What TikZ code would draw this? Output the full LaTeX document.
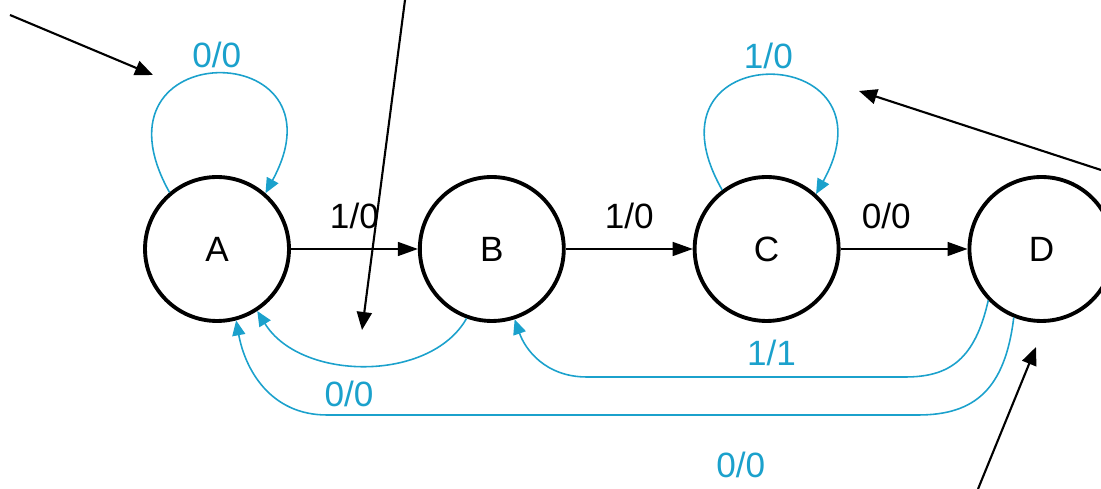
\documentclass[tikz,border=0pt]{standalone}
\usepackage{fontspec}
\setmainfont{Liberation Sans}
\usetikzlibrary{positioning,arrows.meta}
\definecolor{fsmblue}{RGB}{27,161,204}

\begin{document}
\begin{tikzpicture}[x=0.02cm,y=0.02cm,
		font=\fontsize{20}{24}\selectfont,
		state/.style={draw,circle,line width=2.2pt,minimum size=2.88cm,inner sep=0pt},
		trans/.style={-{Triangle[length=0.4cm,width=0.28cm]},line width=0.8pt},
		back/.style={fsmblue,line width=0.9pt,-{Triangle[length=0.3cm,width=0.26cm]}},
		lbl/.style={text=fsmblue},
		note/.style={-{Triangle[length=0.36cm,width=0.3cm]},line width=1.2pt},
		node distance=2.54cm]
	\useasboundingbox (0,0) rectangle (1101,489);
	% states
	\node[state] (A) at (217,240) {A};
	\node[state,right=of A] (B) {B};
	\node[state,right=of B] (C) {C};
	\node[state,right=of C] (D) {D};
	% forward transitions
	\draw[trans] (A) -- node[above=0.27cm] (l1) {1/0} (B);
	\draw[trans] (B) -- node[above=0.27cm] (l2) {1/0} (C);
	\draw[trans] (C) -- node[above=0.27cm,pos=0.36] (l3) {0/0} (D);
	% self loops
	\draw[back] (A.130) .. controls +(-88,158) and +(86,158) .. (A.49)
		node[above,lbl,pos=0.5] (la) {0/0};
	\draw[back] (C.127) .. controls +(-88,155) and +(86,155) .. (C.48)
		node[above,lbl,pos=0.5] (lc) {1/0};
	% back transitions
	\draw[back] (B.250) .. controls (430,106) and (300,108) .. (A.303)
		node[below=0.2cm,lbl,pos=0.56] (lba) {0/0};
	\draw[back] (D.224) .. controls (975,130) and (950,112) .. (905,112)
		-- (587,112) node[above=0.1cm,lbl,pos=0.42] (ldb) {1/1}
		.. controls (545,112) and (525,140) .. (B.288);
	\draw[back] (D.248) .. controls (1005,100) and (975,74) .. (918,74)
		-- (327,74) node[below=0.6cm,lbl,pos=0.3] (lda) {0/0}
		.. controls (270,74) and (245,120) .. (A.285);
	% pointers
	\coordinate (p1) at (10,474);   \coordinate (q1) at (153,414);
	\coordinate (p2) at (405,489);  \coordinate (q2) at (362,159);
	\coordinate (p3) at (1101,319); \coordinate (q3) at (859,398);
	\coordinate (p4) at (978,0);    \coordinate (q4) at (1036,142);
	\draw[note] (p1) -- (q1);
	\draw[note] (p2) -- (q2);
	\draw[note] (p3) -- (q3);
	\draw[note] (p4) -- (q4);
\end{tikzpicture}
\end{document}
